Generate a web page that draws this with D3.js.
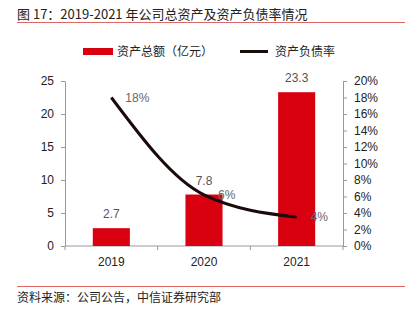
<!DOCTYPE html>
<html>
<head>
<meta charset="utf-8">
<script src="https://cdn.jsdelivr.net/npm/d3@7"></script>
<style>
  body { margin: 0; background: #fff; }
  text { font-family: "Noto Sans CJK SC", "Liberation Sans", Arial, sans-serif; }
</style>
</head>
<body>
<svg id="chart" width="411" height="327"></svg>
<script>
const years = ['2019', '2020', '2021'];
const assets = [2.7, 7.8, 23.3];
const debtRatio = [0.18, 0.062, 0.035];
const debtLabels = ['18%', '6%', '4%'];
const leftTicks = [0, 5, 10, 15, 20, 25];
const rightTicks = [0, 0.02, 0.04, 0.06, 0.08, 0.1, 0.12, 0.14, 0.16, 0.18, 0.2];

const RED = '#d9000f';
const AXIS = '#999';

const svg = d3.select('#chart');

// title + rules
svg.append('text').attr('x', 17).attr('y', 19)
  .attr('font-size', 13).attr('fill', '#222')
  .text('图 17：2019-2021 年公司总资产及资产负债率情况');
svg.append('line').attr('x1', 17).attr('x2', 405).attr('y1', 22.5).attr('y2', 22.5)
  .attr('stroke', '#e06666').attr('stroke-width', 1);
svg.append('line').attr('x1', 17).attr('x2', 405).attr('y1', 286.5).attr('y2', 286.5)
  .attr('stroke', '#e06666').attr('stroke-width', 1);
svg.append('text').attr('x', 17).attr('y', 302)
  .attr('font-size', 12).attr('fill', '#222')
  .text('资料来源：公司公告，中信证券研究部');

// legend
const legend = svg.append('g');
legend.append('rect').attr('x', 83).attr('y', 48).attr('width', 30).attr('height', 7).attr('fill', RED);
legend.append('text').attr('x', 117).attr('y', 56).attr('font-size', 12).attr('fill', '#222')
  .text('资产总额（亿元）');
legend.append('line').attr('x1', 240).attr('x2', 268).attr('y1', 51.5).attr('y2', 51.5)
  .attr('stroke', '#1a0a0a').attr('stroke-width', 3);
legend.append('text').attr('x', 275).attr('y', 56).attr('font-size', 12).attr('fill', '#222')
  .text('资产负债率');

// scales
const x = d3.scaleBand().domain(years).range([65, 343]).paddingInner(0.6).paddingOuter(0.3);
const y = d3.scaleLinear().domain([0, 25]).range([246, 81]);
const y2 = d3.scaleLinear().domain([0, 0.2]).range([246, 81]);

// axes
const styleAxis = (g) => {
  g.select('.domain').attr('stroke', AXIS);
  g.selectAll('.tick line').attr('stroke', AXIS);
  g.selectAll('.tick text').attr('fill', '#222').attr('font-size', 12)
    .style('font-family', '"Liberation Sans", Arial, sans-serif');
};

svg.append('g').attr('transform', 'translate(65,0)')
  .call(d3.axisLeft(y).tickValues(leftTicks).tickSize(4).tickPadding(7).tickSizeOuter(0))
  .call(styleAxis);

svg.append('g').attr('transform', 'translate(343,0)')
  .call(d3.axisRight(y2).tickValues(rightTicks).tickFormat(d3.format('.0%')).tickSize(4).tickPadding(7).tickSizeOuter(0))
  .call(styleAxis);

// x axis with ticks between categories
const xAxis = svg.append('g').attr('transform', 'translate(0,246)');
xAxis.append('line').attr('x1', 65).attr('x2', 343).attr('stroke', AXIS);
const bounds = [65].concat(years.map((d) => x(d) + x.bandwidth() / 2 + (343 - 65) / years.length / 2));
bounds.forEach((b) => {
  xAxis.append('line').attr('x1', b).attr('x2', b).attr('y1', 0).attr('y2', 4).attr('stroke', AXIS);
});
years.forEach((d) => {
  xAxis.append('text').attr('x', x(d) + x.bandwidth() / 2).attr('y', 20)
    .attr('text-anchor', 'middle').attr('font-size', 12).attr('fill', '#222')
    .style('font-family', '"Liberation Sans", Arial, sans-serif')
    .text(d);
});

// bars
svg.append('g').selectAll('rect').data(assets).join('rect')
  .attr('x', (d, i) => x(years[i]))
  .attr('y', (d) => y(d))
  .attr('width', x.bandwidth())
  .attr('height', (d) => y(0) - y(d))
  .attr('fill', RED);

svg.append('g').selectAll('text').data(assets).join('text')
  .attr('x', (d, i) => x(years[i]) + x.bandwidth() / 2)
  .attr('y', (d) => y(d) - 10)
  .attr('text-anchor', 'middle').attr('font-size', 12).attr('fill', '#555')
  .style('font-family', '"Liberation Sans", Arial, sans-serif')
  .text((d) => d.toFixed(1));

// debt ratio line
const cx = (i) => x(years[i]) + x.bandwidth() / 2;
const line = d3.line()
  .x((d, i) => cx(i))
  .y((d) => y2(d))
  .curve(d3.curveMonotoneX);

svg.append('path').datum(debtRatio)
  .attr('d', line)
  .attr('fill', 'none')
  .attr('stroke', '#1a0a0a')
  .attr('stroke-width', 3);

svg.append('g').selectAll('text').data(debtRatio).join('text')
  .attr('x', (d, i) => cx(i) + 14)
  .attr('y', (d) => y2(d) + 4)
  .attr('font-size', 12).attr('fill', '#666')
  .style('font-family', '"Liberation Sans", Arial, sans-serif')
  .text((d, i) => debtLabels[i]);
</script>
</body>
</html>
